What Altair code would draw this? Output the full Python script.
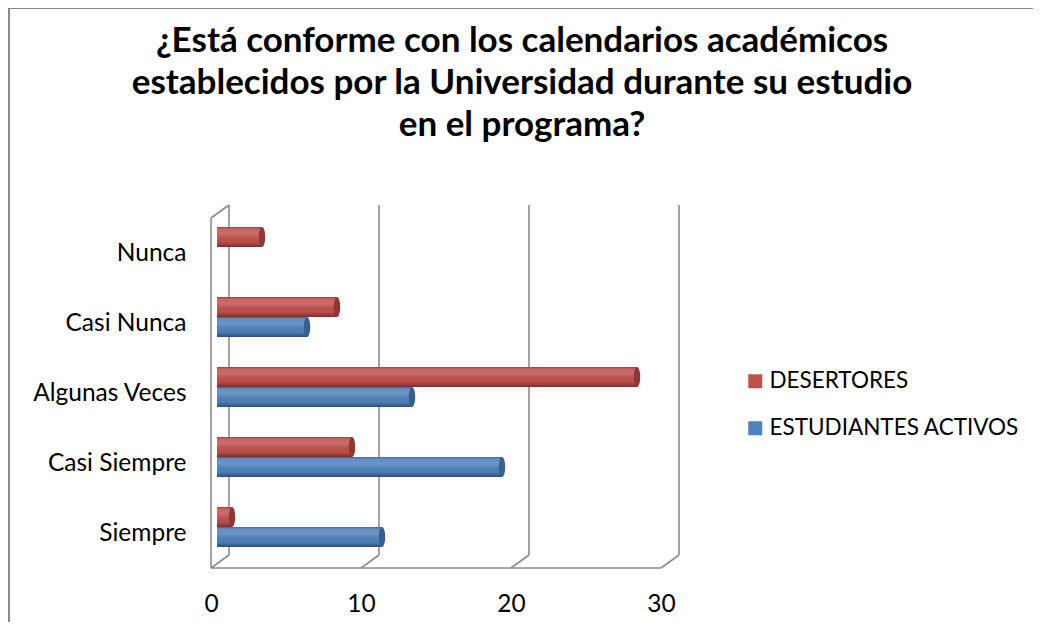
import altair as alt
import pandas as pd

categories = ["Nunca", "Casi Nunca", "Algunas Veces", "Casi Siempre", "Siempre"]
series = ["DESERTORES", "ESTUDIANTES ACTIVOS"]
desertores = [3, 8, 28, 9, 1]
activos = [0, 6, 13, 19, 11]
x_ticks = [0, 10, 20, 30]
colors = ["#C0504D", "#4F81BD"]
cap_colors = ["#8E3735", "#35608F"]

rows = []
for c, d, a in zip(categories, desertores, activos):
    rows.append({"cat": c, "serie": series[0], "valor": d})
    rows.append({"cat": c, "serie": series[1], "valor": a})
df = pd.DataFrame(rows)
df_nz = df[df["valor"] > 0]
ticks_df = pd.DataFrame({"t": x_ticks})

FONT = "Lato"
LBL = 24.5
xscale = alt.Scale(domain=[0, 30], nice=False, zero=True)
yscale = alt.Scale(domain=categories, paddingInner=0.4286, paddingOuter=0.2143)
off_scale = alt.Scale(domain=series, paddingInner=0, paddingOuter=0)
xaxis = alt.Axis(values=x_ticks, grid=False, domain=False, ticks=False, labelPadding=30,
                 labelOffset=-6, labelFlush=False, labelFont=FONT, labelFontSize=LBL,
                 labelColor="#000", title=None)

GRID = "#8c8c8c"
SW = 1.6

def xq(field):
    return alt.X(field, type="quantitative", scale=xscale, axis=xaxis)

# 3D frame (back wall gridlines, floor diagonals, front edges)
back = alt.Chart(ticks_df).mark_rule(color=GRID, strokeWidth=SW, xOffset=12, x2Offset=12).encode(
    x=xq("t"), y=alt.value(-7), y2=alt.value(343))
diag = alt.Chart(ticks_df).mark_rule(color=GRID, strokeWidth=SW, xOffset=-6, x2Offset=12).encode(
    x=xq("t"), x2="t:Q", y=alt.value(356), y2=alt.value(343))
front_floor = alt.Chart(ticks_df).mark_rule(color=GRID, strokeWidth=SW, xOffset=-6, x2Offset=-6).encode(
    x=alt.X("min(t):Q", scale=xscale, axis=xaxis), x2="max(t):Q", y=alt.value(356))
left_front = alt.Chart(ticks_df).mark_rule(color=GRID, strokeWidth=SW, xOffset=-6).encode(
    x=alt.X("min(t):Q", scale=xscale, axis=xaxis), y=alt.value(6), y2=alt.value(356))
left_top = alt.Chart(ticks_df).mark_rule(color=GRID, strokeWidth=SW, xOffset=-6, x2Offset=12).encode(
    x=alt.X("min(t):Q", scale=xscale, axis=xaxis), x2="min(t):Q", y=alt.value(6), y2=alt.value(-7))

# outer chart border
border_left = alt.Chart(ticks_df).mark_rule(color="#8a8a8a", strokeWidth=2).encode(
    x=alt.value(-208), y=alt.value(-204), y2=alt.value(440))
border_top = alt.Chart(ticks_df).mark_rule(color="#8a8a8a", strokeWidth=2).encode(
    x=alt.value(-208), x2=alt.value(900), y=alt.value(-204))

bars = alt.Chart(df).mark_bar(size=20).encode(
    x=xq("valor"),
    y=alt.Y("cat:N", scale=yscale, sort=categories,
            axis=alt.Axis(domain=False, ticks=False, labelPadding=31, labelOffset=7, labelFont=FONT,
                          labelFontSize=LBL, labelColor="#000", title=None)),
    yOffset=alt.YOffset("serie:N", scale=off_scale, sort=series),
    color=alt.Color("serie:N", scale=alt.Scale(domain=series, range=colors),
                    legend=alt.Legend(title=None, orient="none", legendX=527, legendY=158,
                                      symbolType="square", symbolSize=196, symbolStrokeWidth=0,
                                      labelFont=FONT, labelFontSize=22.5, labelColor="#000",
                                      labelLimit=0, rowPadding=24, labelOffset=3)),
)

shade = alt.Chart(df).mark_bar(size=20, fill={
    "gradient": "linear", "x1": 0, "y1": 0, "x2": 0, "y2": 1,
    "stops": [
        {"offset": 0, "color": "rgba(0,0,0,0.25)"},
        {"offset": 0.12, "color": "rgba(255,255,255,0.12)"},
        {"offset": 0.35, "color": "rgba(255,255,255,0.16)"},
        {"offset": 0.75, "color": "rgba(0,0,0,0.02)"},
        {"offset": 1, "color": "rgba(0,0,0,0.40)"},
    ]}).encode(
    x=xq("valor"),
    y=alt.Y("cat:N", scale=yscale, sort=categories),
    yOffset=alt.YOffset("serie:N", scale=off_scale, sort=series),
)

caps = alt.Chart(df_nz).mark_point(
    shape="M0,-1 A0.32,1 0 1,1 0,1 A0.32,1 0 1,1 0,-1 Z", size=400, filled=True, opacity=1).encode(
    x=xq("valor"),
    y=alt.Y("cat:N", scale=yscale, sort=categories),
    yOffset=alt.YOffset("serie:N", scale=off_scale, sort=series),
    fill=alt.Fill("serie:N", scale=alt.Scale(domain=series, range=cap_colors), legend=None),
)

chart = alt.layer(
    border_left, border_top, back, diag, front_floor, left_front, left_top, bars, shade, caps
).resolve_scale(fill="independent").properties(
    width=450, height=350,
    title=alt.TitleParams(
        ["¿Está conforme con los calendarios académicos",
         "establecidos por la Universidad durante su estudio",
         "en el programa?"],
        font=FONT, fontSize=35, fontWeight="bold", color="#000", anchor="middle",
        dx=80, offset=0, dy=136, lineHeight=42),
    autosize=alt.AutoSizeParams(type="none"),
    padding={"left": 209, "top": 204, "right": 366, "bottom": 60},
).configure(background="white").configure_view(stroke=None)

chart.save("out.html", embed_options={"renderer": "svg", "actions": False})
